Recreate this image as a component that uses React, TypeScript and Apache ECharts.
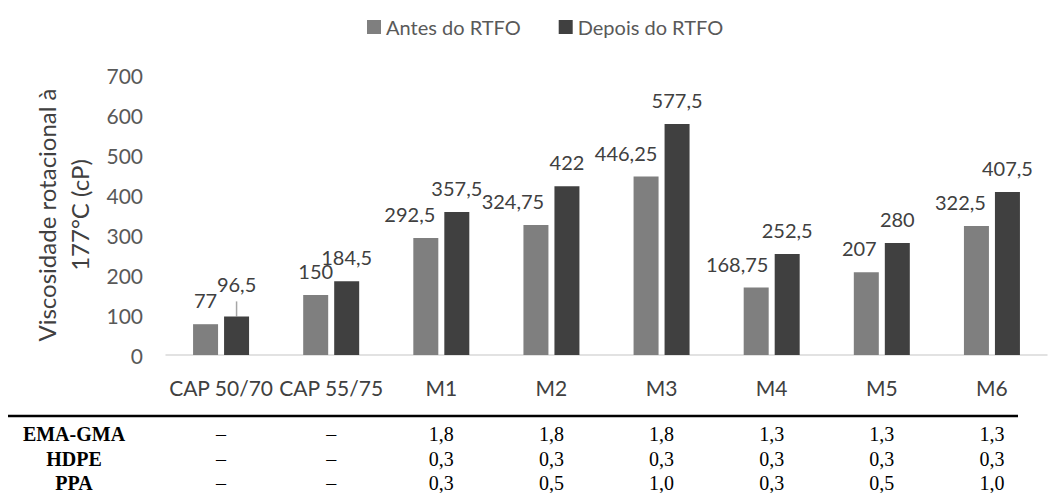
import React, { useEffect, useRef } from "react";
import * as echarts from "echarts";

const categories = ["CAP 50/70", "CAP 55/75", "M1", "M2", "M3", "M4", "M5", "M6"];
const antes = [77, 150, 292.5, 324.75, 446.25, 168.75, 207, 322.5];
const depois = [96.5, 184.5, 357.5, 422, 577.5, 252.5, 280, 407.5];
const yMin = 0;
const yMax = 700;
const yInterval = 100;

const tableRowNames = ["EMA-GMA", "HDPE", "PPA"];
const emaGma = ["–", "–", "1,8", "1,8", "1,8", "1,3", "1,3", "1,3"];
const hdpe = ["–", "–", "0,3", "0,3", "0,3", "0,3", "0,3", "0,3"];
const ppa = ["–", "–", "0,3", "0,5", "1,0", "0,3", "0,5", "1,0"];
const tableRows = [emaGma, hdpe, ppa];

// label nudges (style, not data)
const antesLabelShift = [0, 0, -16, -23, -20, -19, -7, -16];
const depoisLabelRaise = [8, 0, 0, 0, 0, 0, 0, 0];

const BAR_W = 25;
const BAR_GAP = 6;
const FONT = "Lato, 'Open Sans', sans-serif";
const SERIF = "'Liberation Serif', 'DejaVu Serif', serif";

const fmt = (v: number) => String(v).replace(".", ",");

export default function App() {
  const ref = useRef<HTMLDivElement>(null);

  useEffect(() => {
    if (!ref.current) return;
    const chart = echarts.init(ref.current, undefined, { renderer: "svg" });

    const labelBase = {
      show: true,
      position: "top" as const,
      distance: 14,
      color: "#404040",
      fontSize: 20,
      fontFamily: FONT,
      formatter: (p: any) => fmt(p.value),
    };

    chart.setOption({
      animation: false,
      backgroundColor: "#ffffff",
      textStyle: { fontFamily: FONT },
      legend: {
        top: 12,
        left: 362,
        icon: "rect",
        itemWidth: 14,
        itemHeight: 14,
        itemGap: 38,
        textStyle: { color: "#595959", fontSize: 20, fontFamily: FONT },
        data: ["Antes do RTFO", "Depois do RTFO"],
      },
      grid: { left: 166, right: 2, top: 75, height: 280, containLabel: false },
      xAxis: {
        type: "category",
        data: categories,
        axisLine: { lineStyle: { color: "#d9d9d9", width: 1.5 } },
        axisTick: { show: false },
        axisLabel: { color: "#404040", fontSize: 21, fontFamily: FONT, margin: 22, interval: 0 },
      },
      yAxis: {
        type: "value",
        min: yMin,
        max: yMax,
        interval: yInterval,
        name: "Viscosidade rotacional à\n177°C (cP)",
        nameLocation: "middle",
        nameRotate: 90,
        nameGap: 60,
        nameTextStyle: { color: "#404040", fontSize: 24, fontFamily: FONT, lineHeight: 33 },
        axisLine: { show: false },
        axisTick: { show: false },
        splitLine: { show: false },
        axisLabel: { color: "#595959", fontSize: 21, fontFamily: FONT, margin: 23 },
      },
      series: [
        {
          name: "Antes do RTFO",
          type: "bar",
          barWidth: BAR_W,
          barGap: `${(BAR_GAP / BAR_W) * 100}%`,
          itemStyle: { color: "#7f7f7f" },
          label: labelBase,
          data: antes.map((v, i) => ({ value: v, label: { offset: [antesLabelShift[i], 0] } })),
        },
        {
          name: "Depois do RTFO",
          type: "bar",
          barWidth: BAR_W,
          itemStyle: { color: "#404040" },
          label: labelBase,
          data: depois.map((v, i) => ({ value: v, label: { offset: [0, -depoisLabelRaise[i]] } })),
        },
      ],
    });

    // table + leader line drawn from the axis scales
    const elements: any[] = [];
    const lineY = 416;
    elements.push({
      type: "line",
      shape: { x1: 8, y1: lineY, x2: 1018, y2: lineY },
      style: { stroke: "#000000", lineWidth: 2.5 },
      silent: true,
    });
    const rowY = [434, 459, 483];
    tableRowNames.forEach((name, r) => {
      elements.push({
        type: "text",
        x: 74,
        y: rowY[r],
        style: {
          text: name,
          font: `bold 20px ${SERIF}`,
          fill: "#000000",
          align: "center",
          verticalAlign: "middle",
        },
      });
      tableRows[r].forEach((t, i) => {
        const px = chart.convertToPixel({ xAxisIndex: 0 }, categories[i]) as number;
        elements.push({
          type: "text",
          x: px,
          y: rowY[r],
          style: {
            text: t,
            font: `20px ${SERIF}`,
            fill: "#000000",
            align: "center",
            verticalAlign: "middle",
          },
        });
      });
    });

    depoisLabelRaise.forEach((raise, i) => {
      if (!raise) return;
      const cx = (chart.convertToPixel({ xAxisIndex: 0 }, categories[i]) as number) + (BAR_W + BAR_GAP) / 2;
      const top = chart.convertToPixel({ yAxisIndex: 0 }, depois[i]) as number;
      elements.push({
        type: "line",
        shape: { x1: cx, y1: top - 15, x2: cx, y2: top },
        style: { stroke: "#a6a6a6", lineWidth: 1.5 },
        silent: true,
      });
    });

    chart.setOption({ graphic: elements });

    return () => chart.dispose();
  }, []);

  return <div ref={ref} style={{ width: 1049, height: 493, position: "absolute", left: 0, top: 0 }} />;
}
